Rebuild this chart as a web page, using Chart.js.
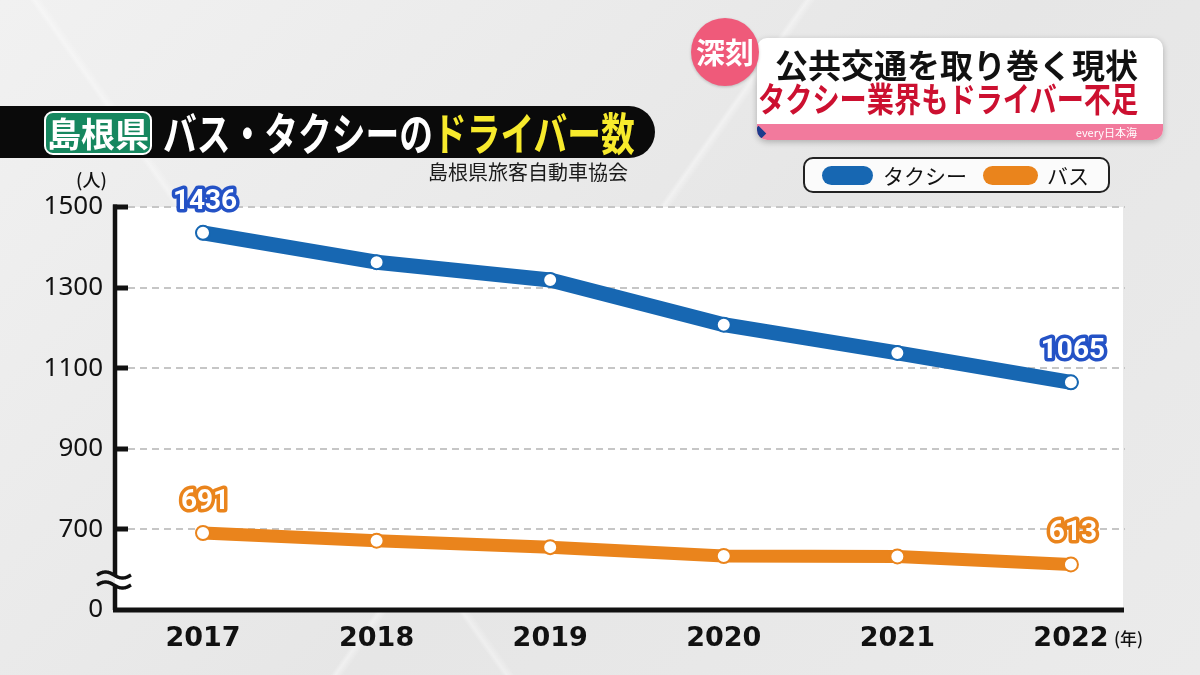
<!DOCTYPE html>
<html lang="ja">
<head>
<meta charset="utf-8">
<title>島根県 バス・タクシーのドライバー数</title>
<script src="https://cdn.jsdelivr.net/npm/chart.js@4.4.1/dist/chart.umd.min.js"></script>
<style>
    html, body { margin: 0; padding: 0; }
    body {
        width: 1200px; height: 675px; position: relative; overflow: hidden;
        font-family: "Noto Sans CJK JP", "Noto Sans", sans-serif;
        background:
            linear-gradient(125deg, transparent 48%, rgba(255,255,255,.4) 48.3%, transparent 48.8%),
            linear-gradient(55deg, transparent 30%, rgba(255,255,255,.35) 30.3%, transparent 30.8%),
            linear-gradient(135deg, #f1f1f1 0%, #e6e6e6 55%, #ebebeb 100%);
    }
    #chartWrap { position: absolute; left: 0; top: 0; width: 1200px; height: 675px; }
    .abs { position: absolute; white-space: nowrap; }

    /* title bar */
    #titleBar { left: 0; top: 106px; width: 655px; height: 52px; background: #0a0a0a; border-radius: 0 26px 26px 0; }
    #pref {
        left: 44px; top: 111px; width: 104px; height: 40px; border: 2px solid #fff; border-radius: 9px;
        background: #16875f; color: #fff; font-weight: 700; font-size: 34px; line-height: 40px; text-align: center;
    }
    #titleText {
        left: 163px; top: 106px; height: 52px; line-height: 52px; font-size: 45px; font-weight: 700; color: #fff;
        transform: scaleX(0.75); transform-origin: left center;
    }
    #titleText .yel { color: #f7ea2c; }
    #source { left: 428px; top: 159px; font-size: 20px; color: #1a1a1a; line-height: 26px; }
    #unitY { left: 76px; top: 168px; font-size: 18px; color: #111; line-height: 22px; font-weight: 500; }
    #unitX { left: 1114px; top: 627px; font-size: 17px; color: #111; line-height: 22px; font-weight: 500; }

    /* caption top right */
    #capBox {
        left: 757px; top: 38px; width: 406px; height: 102px; background: #fff; border-radius: 10px;
        box-shadow: 0 2px 6px rgba(0,0,0,.25); overflow: hidden;
    }
    #capStrip { position: absolute; left: 0; bottom: 0; width: 100%; height: 16px; background: #f27a9d; }
    #capDia { position: absolute; left: -4px; bottom: 1px; width: 11px; height: 11px; background: #1c3b8c; transform: rotate(45deg); }
    #capEvery { position: absolute; right: 26px; bottom: 1px; font-size: 11px; line-height: 14px; color: #fff; }
    #cap1 { left: 775px; top: 44px; font-size: 33px; font-weight: 700; color: #111; line-height: 40px; }
    #cap2 {
        left: 758px; top: 78px; font-size: 34px; font-weight: 700; color: #cc1030; line-height: 40px;
        transform: scaleX(0.8); transform-origin: left center;
    }
    #shinkoku {
        left: 691px; top: 18px; width: 68px; height: 68px; border-radius: 50%; background: #ef5a7a;
        color: #fff; font-size: 29px; font-weight: 700; line-height: 66px; text-align: center;
        box-shadow: 0 1px 3px rgba(0,0,0,.2);
    }

    /* legend */
    #legend {
        left: 803px; top: 157px; width: 303px; height: 32px; border: 2px solid #222; border-radius: 10px;
        background: #fbfbfb;
    }
    .pill { position: absolute; top: 7px; height: 19px; border-radius: 10px; }
    .lgText { position: absolute; top: 0; line-height: 32px; font-size: 21px; color: #111; }
</style>
</head>
<body>
<div id="chartWrap"><canvas id="driverChart" width="1200" height="675"></canvas></div>

<div class="abs" id="titleBar"></div>
<div class="abs" id="pref">島根県</div>
<div class="abs" id="titleText">バス・タクシーの<span class="yel">ドライバー数</span></div>
<div class="abs" id="source">島根県旅客自動車協会</div>
<div class="abs" id="unitY">(人)</div>
<div class="abs" id="unitX">(年)</div>

<div class="abs" id="capBox">
    <div id="capStrip"></div>
    <div id="capDia"></div>
    <div id="capEvery">every日本海</div>
</div>
<div class="abs" id="cap1">公共交通を取り巻く現状</div>
<div class="abs" id="cap2">タクシー業界もドライバー不足</div>
<div class="abs" id="shinkoku">深刻</div>

<div class="abs" id="legend">
    <div class="pill" style="left:17px;width:51px;background:#1767b2"></div>
    <div class="lgText" style="left:78px">タクシー</div>
    <div class="pill" style="left:178px;width:55px;background:#ea841c"></div>
    <div class="lgText" style="left:242px">バス</div>
</div>

<script>
// データ
const years = [2017, 2018, 2019, 2020, 2021, 2022];
const taxiDrivers = [1436, 1363, 1319, 1208, 1138, 1065];
const busDrivers = [691, 672, 656, 634, 633, 613];
const yTicks = [500, 700, 900, 1100, 1300, 1500]; // 500 = 軸の省略部分 (0 と表示)

const taxiColor = '#1767b2';
const busColor = '#ea841c';

// 軸・グリッド・省略記号
const axisDeco = {
    id: 'axisDeco',
    beforeDraw(chart) {
        const { ctx, chartArea: a } = chart;
        ctx.save();
        ctx.fillStyle = '#ffffff';
        ctx.fillRect(a.left, a.top, a.right - a.left, a.bottom - a.top);
        ctx.restore();
    },
    beforeDatasetsDraw(chart) {
        const { ctx, chartArea: a, scales: { y } } = chart;
        const axisX = a.left;
        ctx.save();

        // 点線グリッド
        ctx.strokeStyle = '#c6c6c6';
        ctx.lineWidth = 2;
        ctx.setLineDash([7, 5]);
        yTicks.forEach(v => {
            if (v === 500) return;
            const py = Math.round(y.getPixelForValue(v));
            ctx.beginPath();
            ctx.moveTo(axisX + 13, py);
            ctx.lineTo(a.right + 2, py);
            ctx.stroke();
        });
        ctx.setLineDash([]);

        // 目盛り
        ctx.strokeStyle = '#111';
        ctx.lineWidth = 5;
        yTicks.forEach(v => {
            if (v === 500) return;
            const py = Math.round(y.getPixelForValue(v));
            ctx.beginPath();
            ctx.moveTo(axisX - 2, py);
            ctx.lineTo(axisX + 13, py);
            ctx.stroke();
        });

        // 縦軸 (省略部分で切る)
        const breakTop = 575, breakBot = 585;
        ctx.lineWidth = 4.5;
        ctx.beginPath();
        ctx.moveTo(axisX, a.top - 2.5);
        ctx.lineTo(axisX, breakTop);
        ctx.moveTo(axisX, breakBot);
        ctx.lineTo(axisX, a.bottom);
        ctx.stroke();

        // 横軸
        ctx.lineWidth = 5;
        ctx.beginPath();
        ctx.moveTo(axisX - 2, a.bottom);
        ctx.lineTo(a.right + 1, a.bottom);
        ctx.stroke();

        // 波線
        ctx.lineWidth = 3.5;
        [breakTop, breakBot].forEach(by => {
            ctx.beginPath();
            for (let i = 0; i <= 34; i++) {
                const px = axisX - 18 + i;
                const py = by - 3 * Math.sin((i / 34) * Math.PI * 2);
                if (i === 0) ctx.moveTo(px, py); else ctx.lineTo(px, py);
            }
            ctx.stroke();
        });
        ctx.restore();
    }
};

// 両端の数値ラベル
const endLabels = {
    id: 'endLabels',
    afterDatasetsDraw(chart) {
        const { ctx } = chart;
        ctx.save();
        ctx.font = 'bold 28px Roboto, "Noto Sans", sans-serif';
        ctx.textAlign = 'center';
        ctx.textBaseline = 'middle';
        ctx.lineJoin = 'round';
        chart.data.datasets.forEach((ds, di) => {
            const meta = chart.getDatasetMeta(di);
            [0, ds.data.length - 1].forEach(i => {
                const pt = meta.data[i];
                const txt = String(ds.data[i].y);
                const lx = pt.x + 2, ly = pt.y - 31;
                ctx.lineWidth = 7;
                ctx.strokeStyle = ds.labelStroke;
                ctx.strokeText(txt, lx, ly);
                ctx.fillStyle = '#fff';
                ctx.fillText(txt, lx, ly);
            });
        });
        ctx.restore();
    }
};

const ctx = document.getElementById('driverChart');
new Chart(ctx, {
    type: 'line',
    data: {
        datasets: [
            {
                label: 'タクシー',
                data: years.map((yr, i) => ({ x: yr, y: taxiDrivers[i] })),
                borderColor: taxiColor,
                borderWidth: 15,
                borderCapStyle: 'round',
                borderJoinStyle: 'round',
                pointRadius: 7,
                pointBackgroundColor: '#fff',
                pointBorderColor: taxiColor,
                pointBorderWidth: 2,
                labelStroke: '#2452c6'
            },
            {
                label: 'バス',
                data: years.map((yr, i) => ({ x: yr, y: busDrivers[i] })),
                borderColor: busColor,
                borderWidth: 13,
                borderCapStyle: 'round',
                borderJoinStyle: 'round',
                pointRadius: 7,
                pointBackgroundColor: '#fff',
                pointBorderColor: busColor,
                pointBorderWidth: 2,
                labelStroke: busColor
            }
        ]
    },
    options: {
        responsive: false,
        animation: false,
        events: [],
        layout: { padding: { left: 0, top: 207, right: 77, bottom: 0 } },
        plugins: { legend: { display: false }, tooltip: { enabled: false } },
        scales: {
            x: {
                type: 'linear',
                min: 2016.493,
                max: 2022.3,
                grid: { display: false },
                border: { display: false },
                afterBuildTicks: (s) => { s.ticks = years.map(v => ({ value: v })); },
                afterFit: (s) => { s.height = 65; s.paddingLeft = 0; s.paddingRight = 0; },
                ticks: {
                    callback: (v) => String(v),
                    color: '#111',
                    padding: 5,
                    maxRotation: 0,
                    font: { family: '"DejaVu Sans", sans-serif', size: 27, weight: 'bold' }
                }
            },
            y: {
                min: 500,
                max: 1500,
                grid: { display: false },
                border: { display: false },
                afterBuildTicks: (s) => { s.ticks = yTicks.map(v => ({ value: v })); },
                afterFit: (s) => { s.width = 115; s.paddingTop = 0; s.paddingBottom = 0; },
                ticks: {
                    callback: (v) => (v === 500 ? '0' : String(v)),
                    color: '#111',
                    padding: 4,
                    font: { family: '"Noto Sans", sans-serif', size: 26 }
                }
            }
        }
    },
    plugins: [axisDeco, endLabels]
});
</script>
</body>
</html>
